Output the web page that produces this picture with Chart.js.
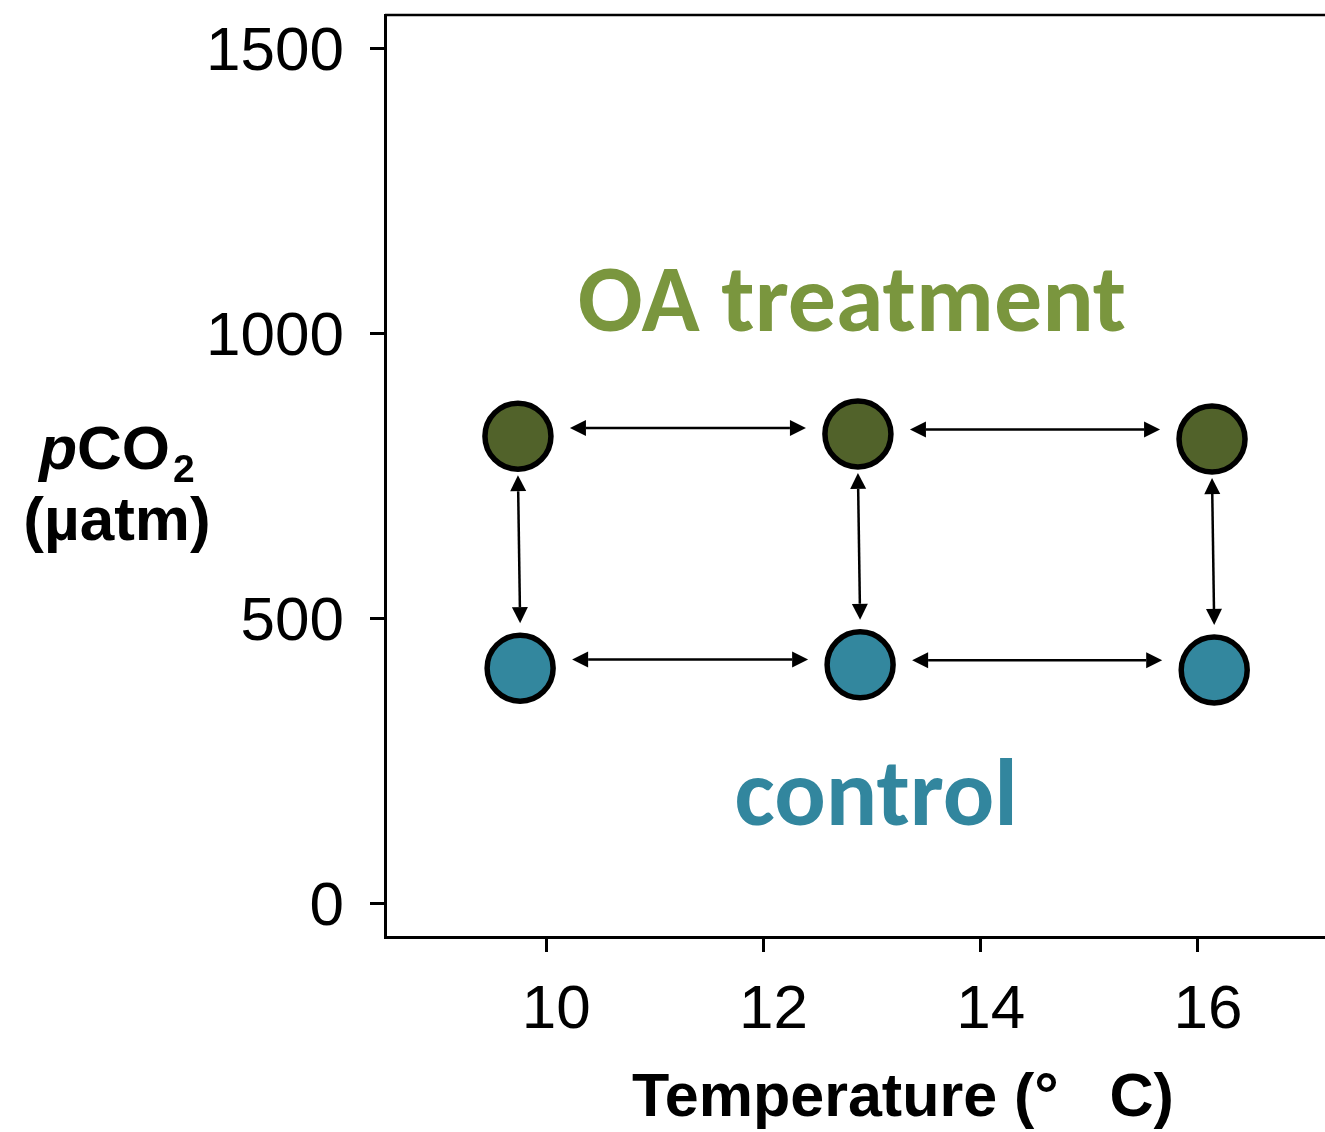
<!DOCTYPE html>
<html>
<head>
<meta charset="utf-8">
<title>pCO2 x temperature treatments</title>
<script src="https://cdn.jsdelivr.net/npm/chart.js@4.4.1/dist/chart.umd.min.js"></script>
<style>
  html, body { margin: 0; padding: 0; background: #fff; }
  #wrap { width: 1325px; height: 1132px; }
</style>
</head>
<body>
<div id="wrap"><canvas id="chart" width="1325" height="1132"></canvas></div>
<script>
// Treatment combinations: temperature (°C) vs pCO2 (µatm)
var TEMP_OA   = [9.74, 12.87, 16.13];
var PCO2_OA   = [819, 823, 814];
var TEMP_CTRL = [9.76, 12.89, 16.15];
var PCO2_CTRL = [412, 418, 409];

var X_TICKS = [10, 12, 14, 16];
var Y_TICKS = [0, 500, 1000, 1500];

var GROUP_LABELS = ['OA treatment', 'control'];

var COLORS = {
  oaFill:   '#51622a',
  ctrlFill: '#33879e',
  oaText:   '#7a963e',
  ctrlText: '#32869e',
  ink:      '#000000'
};

function toPoints(xs, ys) {
  return xs.map(function (x, i) { return { x: x, y: ys[i] }; });
}

// double-headed arrow between two pixel positions
function drawArrow(ctx, x1, y1, x2, y2) {
  var ang = Math.atan2(y2 - y1, x2 - x1);
  var len = 16, half = 8;
  var c = Math.cos(ang), s = Math.sin(ang);
  ctx.beginPath();
  ctx.moveTo(x1 + c * len, y1 + s * len);
  ctx.lineTo(x2 - c * len, y2 - s * len);
  ctx.stroke();
  [[x1, y1, 1], [x2, y2, -1]].forEach(function (e) {
    var tx = e[0], ty = e[1], d = e[2];
    var bx = tx + d * c * len, by = ty + d * s * len;
    ctx.beginPath();
    ctx.moveTo(tx, ty);
    ctx.lineTo(bx - s * half, by + c * half);
    ctx.lineTo(bx + s * half, by - c * half);
    ctx.closePath();
    ctx.fill();
  });
}

var arrowsPlugin = {
  id: 'arrows',
  beforeDatasetsDraw: function (chart) {
    var ctx = chart.ctx;
    var oa = chart.getDatasetMeta(0).data;
    var ct = chart.getDatasetMeta(1).data;
    ctx.save();
    ctx.strokeStyle = COLORS.ink;
    ctx.fillStyle = COLORS.ink;
    ctx.lineWidth = 2.5;
    // along each row
    [oa, ct].forEach(function (row) {
      for (var i = 0; i < row.length - 1; i++) {
        var a = row[i], b = row[i + 1];
        var y = (a.y + b.y) / 2 - 7;
        drawArrow(ctx, a.x + 52, y, b.x - 52, y);
      }
    });
    // between OA and control at each temperature
    for (var j = 0; j < oa.length; j++) {
      drawArrow(ctx, oa[j].x, oa[j].y + 39, ct[j].x, ct[j].y - 45);
    }
    ctx.restore();
  }
};

var decorPlugin = {
  id: 'decor',
  afterDraw: function (chart) {
    var ctx = chart.ctx;
    var area = chart.chartArea;
    var oa = chart.getDatasetMeta(0).data;
    var ct = chart.getDatasetMeta(1).data;
    ctx.save();

    // top frame line
    ctx.strokeStyle = COLORS.ink;
    ctx.lineWidth = 2.5;
    ctx.beginPath();
    ctx.moveTo(area.left, area.top);
    ctx.lineTo(area.right, area.top);
    ctx.stroke();

    // group labels
    ctx.textAlign = 'center';
    ctx.textBaseline = 'alphabetic';
    ctx.font = '700 96px "Carlito", "Open Sans", sans-serif';
    ctx.fillStyle = COLORS.oaText;
    ctx.fillText(GROUP_LABELS[0], (oa[0].x + oa[2].x) / 2 - 13, oa[1].y - 103);
    ctx.fillStyle = COLORS.ctrlText;
    ctx.fillText(GROUP_LABELS[1], (ct[0].x + ct[2].x) / 2 + 9, ct[1].y + 160);

    // y title: pCO2 (µatm)
    ctx.fillStyle = COLORS.ink;
    ctx.textAlign = 'left';
    var cx = 117;
    var fP = 'italic 700 62px "Liberation Sans", Arial, sans-serif';
    var fB = '700 62px "Liberation Sans", Arial, sans-serif';
    var fS = '700 39px "Liberation Sans", Arial, sans-serif';
    ctx.font = fP; var wP = ctx.measureText('p').width;
    ctx.font = fB; var wC = ctx.measureText('CO').width;
    ctx.font = fS; var w2 = ctx.measureText('2').width;
    var x0 = cx - (wP + wC + w2 + 3) / 2;
    var base1 = 469;
    ctx.font = fP; ctx.fillText('p', x0, base1);
    ctx.font = fB; ctx.fillText('CO', x0 + wP, base1);
    ctx.font = fS; ctx.fillText('2', x0 + wP + wC + 3, base1 + 13);
    ctx.font = fB;
    ctx.textAlign = 'center';
    ctx.fillText('(µatm)', cx, 540);

    // x title
    ctx.font = '700 61px "Liberation Sans", Arial, sans-serif';
    ctx.fillText('Temperature (°   C)', 903, 1116);

    ctx.restore();
  }
};

var tickFont = { family: '"Liberation Sans", Arial, sans-serif', size: 62 };

// fixed axis boxes so the plot area keeps its place
function fitBox(size, key) {
  return function (s) {
    s[key] = size;
    s.paddingTop = 0;
    s.paddingBottom = 0;
    s.paddingLeft = 0;
    s.paddingRight = 0;
  };
}

new Chart(document.getElementById('chart'), {
  type: 'scatter',
  data: {
    datasets: [
      {
        label: GROUP_LABELS[0],
        data: toPoints(TEMP_OA, PCO2_OA),
        backgroundColor: COLORS.oaFill,
        borderColor: COLORS.ink,
        borderWidth: 5.5,
        pointRadius: 33,
        pointHoverRadius: 33
      },
      {
        label: GROUP_LABELS[1],
        data: toPoints(TEMP_CTRL, PCO2_CTRL),
        backgroundColor: COLORS.ctrlFill,
        borderColor: COLORS.ink,
        borderWidth: 5.5,
        pointRadius: 33,
        pointHoverRadius: 33
      }
    ]
  },
  options: {
    responsive: false,
    animation: false,
    events: [],
    layout: { autoPadding: false, padding: { top: 15, right: 0, left: 0, bottom: 0 } },
    plugins: {
      legend: { display: false },
      tooltip: { enabled: false }
    },
    scales: {
      x: {
        type: 'linear',
        min: 8.516,
        max: 17.17,
        afterFit: fitBox(195, 'height'),
        afterBuildTicks: function (s) { s.ticks = X_TICKS.map(function (v) { return { value: v }; }); },
        border: { display: true, color: COLORS.ink, width: 3 },
        grid: { drawOnChartArea: false, drawTicks: true, tickLength: 15, tickColor: COLORS.ink, tickWidth: 3 },
        ticks: {
          color: COLORS.ink, font: tickFont, padding: 22, labelOffset: 10, maxRotation: 0,
          callback: function (v) { return String(v); }
        }
      },
      y: {
        type: 'linear',
        min: -59.6,
        max: 1558,
        afterFit: fitBox(385, 'width'),
        afterBuildTicks: function (s) { s.ticks = Y_TICKS.map(function (v) { return { value: v }; }); },
        border: { display: true, color: COLORS.ink, width: 3 },
        grid: { drawOnChartArea: false, drawTicks: true, tickLength: 15, tickColor: COLORS.ink, tickWidth: 3 },
        ticks: {
          color: COLORS.ink, font: tickFont, padding: 26, labelOffset: 5,
          callback: function (v) { return String(v); }
        }
      }
    }
  },
  plugins: [arrowsPlugin, decorPlugin]
});
</script>
</body>
</html>
